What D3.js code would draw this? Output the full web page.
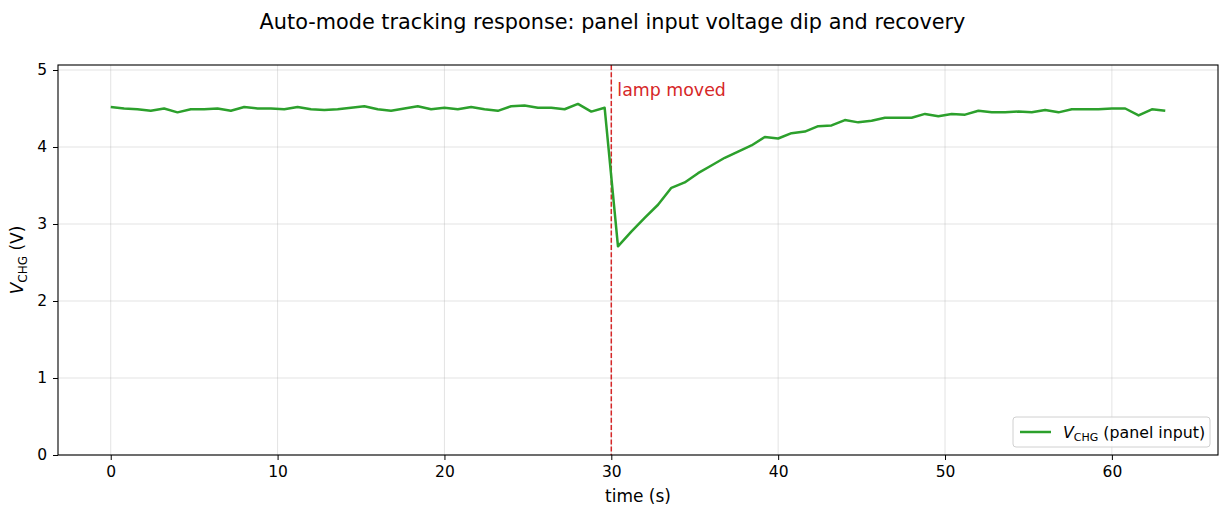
<!DOCTYPE html>
<html>
<head>
<meta charset="utf-8">
<script src="https://cdn.jsdelivr.net/npm/d3@7"></script>
<style>
  body { margin: 0; background: #fff; }
  svg { font-family: "DejaVu Sans", sans-serif; }
  .grid line { stroke: #b0b0b0; stroke-opacity: 0.35; stroke-width: 1; }
</style>
</head>
<body>
<div id="chart"></div>
<script>
// sample times (s), one every 0.8 s
var times = d3.range(80).map(function(i) { return +(i * 0.8).toFixed(1); });

// panel input voltage V_CHG (V)
var vchg = [
  4.52, 4.50, 4.49, 4.47, 4.50, 4.45, 4.49, 4.49, 4.50, 4.47,
  4.52, 4.50, 4.50, 4.49, 4.52, 4.49, 4.48, 4.49, 4.51, 4.53,
  4.49, 4.47, 4.50, 4.53, 4.49, 4.51, 4.49, 4.52, 4.49, 4.47,
  4.53, 4.54, 4.51, 4.51, 4.49, 4.56, 4.46, 4.51, 2.71, 2.90,
  3.08, 3.25, 3.47, 3.54, 3.66, 3.76, 3.86, 3.94, 4.02, 4.13,
  4.11, 4.18, 4.20, 4.27, 4.28, 4.35, 4.32, 4.34, 4.38, 4.38,
  4.38, 4.43, 4.40, 4.43, 4.42, 4.47, 4.45, 4.45, 4.46, 4.45,
  4.48, 4.45, 4.49, 4.49, 4.49, 4.50, 4.50, 4.41, 4.49, 4.47
];

var xTicks = [0, 10, 20, 30, 40, 50, 60];
var yTicks = [0, 1, 2, 3, 4, 5];
var eventTime = 30;
var eventLabel = "lamp moved";

var W = 1225, H = 510;
var margin = {top: 65, right: 7, bottom: 55, left: 58};
var w = W - margin.left - margin.right,
    h = H - margin.top - margin.bottom;

var svg = d3.select('#chart').append('svg')
  .attr('width', W)
  .attr('height', H);

var g = svg.append('g')
  .attr('transform', 'translate(' + margin.left + ',' + margin.top + ')');

var x = d3.scaleLinear().domain([-3.16, 66.36]).range([0, w]);
var y = d3.scaleLinear().domain([0, 5.065]).range([h, 0]);

// grid
g.append('g').attr('class', 'grid')
  .selectAll('line').data(xTicks).enter().append('line')
  .attr('x1', function(d) { return x(d); }).attr('x2', function(d) { return x(d); })
  .attr('y1', 0).attr('y2', h);
g.append('g').attr('class', 'grid')
  .selectAll('line').data(yTicks).enter().append('line')
  .attr('y1', function(d) { return y(d); }).attr('y2', function(d) { return y(d); })
  .attr('x1', 0).attr('x2', w);

// event marker
g.append('line')
  .attr('x1', x(eventTime)).attr('x2', x(eventTime))
  .attr('y1', 0).attr('y2', h)
  .attr('stroke', '#d62728')
  .attr('stroke-width', 1.5)
  .attr('stroke-dasharray', '5,2.2');

g.append('text')
  .attr('x', x(eventTime) + 6)
  .attr('y', y(4.66))
  .attr('fill', '#d62728')
  .style('font-size', '17.4px')
  .text(eventLabel);

// series
var line = d3.line()
  .x(function(d, i) { return x(times[i]); })
  .y(function(d) { return y(d); });

g.append('path')
  .datum(vchg)
  .attr('fill', 'none')
  .attr('stroke', '#2ca02c')
  .attr('stroke-width', 2.5)
  .attr('stroke-linejoin', 'round')
  .attr('d', line);

// axes
function styleAxis(a) {
  a.select('.domain').remove();
  a.attr('font-family', null).attr('font-size', null);
  a.selectAll('text').style('font-size', '15.5px').style('fill', '#000');
  a.selectAll('line').attr('stroke', '#000');
}

g.append('g')
  .attr('transform', 'translate(0,' + h + ')')
  .call(d3.axisBottom(x).tickValues(xTicks).tickFormat(d3.format('d'))
    .tickSize(5).tickPadding(6).tickSizeOuter(0))
  .call(styleAxis);

g.append('g')
  .call(d3.axisLeft(y).tickValues(yTicks).tickFormat(d3.format('d'))
    .tickSize(5).tickPadding(6).tickSizeOuter(0))
  .call(styleAxis);

g.append('rect')
  .attr('width', w).attr('height', h)
  .attr('fill', 'none').attr('stroke', '#000').attr('stroke-width', 1.1);

// labels
svg.append('text')
  .attr('x', W / 2).attr('y', 29)
  .attr('text-anchor', 'middle')
  .style('font-size', '20.8px')
  .text('Auto-mode tracking response: panel input voltage dip and recovery');

svg.append('text')
  .attr('x', margin.left + w / 2).attr('y', 502)
  .attr('text-anchor', 'middle')
  .style('font-size', '17px')
  .text('time (s)');

var yl = svg.append('text')
  .attr('transform', 'translate(23,' + (margin.top + h / 2) + ') rotate(-90)')
  .attr('text-anchor', 'middle')
  .style('font-size', '17px');
yl.append('tspan').style('font-style', 'italic').text('V');
yl.append('tspan').attr('dy', 4).style('font-size', '12px').text('CHG');
yl.append('tspan').attr('dy', -4).text(' (V)');

// legend
var lg = svg.append('g').attr('transform', 'translate(1013,417)');
lg.append('rect')
  .attr('width', 197).attr('height', 30).attr('rx', 3)
  .attr('fill', '#fff').attr('fill-opacity', 0.8)
  .attr('stroke', '#d0d0d0');
lg.append('line')
  .attr('x1', 7).attr('x2', 38).attr('y1', 15).attr('y2', 15)
  .attr('stroke', '#2ca02c').attr('stroke-width', 2.5);
var lt = lg.append('text').attr('x', 50).attr('y', 21).style('font-size', '15.8px');
lt.append('tspan').style('font-style', 'italic').text('V');
lt.append('tspan').attr('dy', 3).style('font-size', '11px').text('CHG');
lt.append('tspan').attr('dy', -3).text(' (panel input)');
</script>
</body>
</html>
